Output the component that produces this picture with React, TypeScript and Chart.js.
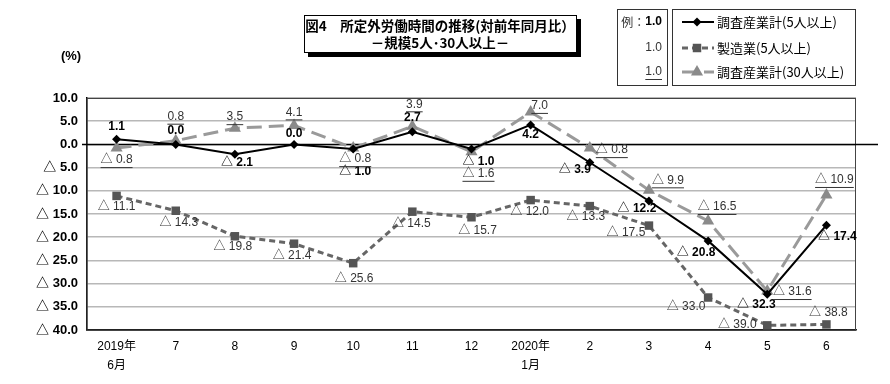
import React, { useEffect, useRef } from 'react';
import { Chart, registerables } from 'chart.js';

Chart.register(...registerables);

const categories: (string | string[])[] = [['2019年', '6月'], '7', '8', '9', '10', '11', '12', ['2020年', '1月'], '2', '3', '4', '5', '6'];
const totalSmall = [1.1, 0.0, -2.1, 0.0, -1.0, 2.7, -1.0, 4.2, -3.9, -12.2, -20.8, -32.3, -17.4];
const manufacturing = [-11.1, -14.3, -19.8, -21.4, -25.6, -14.5, -15.7, -12.0, -13.3, -17.5, -33.0, -39.0, -38.8];
const totalLarge = [-0.8, 0.8, 3.5, 4.1, -0.8, 3.9, -1.6, 7.0, -0.8, -9.9, -16.5, -31.6, -10.9];
const yMin = -40;
const yMax = 10;
const yStep = 5;
const seriesNames = ['調査産業計(5人以上)', '製造業(5人以上)', '調査産業計(30人以上)'];
const titleLines = ['図4　所定外労働時間の推移(対前年同月比）', '－規模5人･30人以上－'];
const unitLabel = '(%)';
const exampleLabel = '例：';
const exampleValue = '1.0';

// label offsets (px) relative to each point — styling only
const offsSmall = [[0, -13], [0, -14], [2, 9], [0, -11], [2, 23], [0, -14], [7, 13], [0, 10], [-15, 7], [-12, 8], [-12, 12], [-11, 10], [11, 12]];
const offsMfg = [[0, 11], [3, 12], [-2, 10], [-2, 12], [1, 16], [-1, 12], [6, 13], [-1, 12], [-4, 11], [-23, 7], [-22, 9], [-30, -1], [2, -12]];
const offsLarge = [[0, 12], [0, -24], [0, -11], [0, -13], [2, 11], [2, -22], [7, 22], [9, -6], [22, 2], [19, -10], [9, -14], [25, 1], [8, -15]];

const fmt = (v: number) => (v < 0 ? '△ ' + Math.abs(v).toFixed(1) : v.toFixed(1));

const NUM = "'Liberation Sans Narrow', 'Liberation Sans', 'Noto Sans CJK JP', sans-serif";
const JP = "'Noto Sans CJK JP', sans-serif";
const TICK = "'Liberation Sans', 'Noto Sans CJK JP', sans-serif";

const styles = [
  { color: '#000000', pointColor: '#000000', width: 2, dash: [] as number[], point: 'rectRot', radius: 4.5 },
  { color: '#666666', pointColor: '#555555', width: 3, dash: [6, 4], point: 'rect', radius: 6 },
  { color: '#9a9a9a', pointColor: '#8a8a8a', width: 3, dash: [15, 7], point: 'triangle', radius: 7 },
];

function drawMarker(ctx: CanvasRenderingContext2D, style: string, x: number, y: number, r: number, color: string) {
  ctx.save();
  ctx.fillStyle = color;
  ctx.beginPath();
  if (style === 'rectRot') {
    ctx.moveTo(x, y - r); ctx.lineTo(x + r, y); ctx.lineTo(x, y + r); ctx.lineTo(x - r, y);
  } else if (style === 'rect') {
    const s = r * Math.SQRT1_2;
    ctx.rect(x - s, y - s, 2 * s, 2 * s);
  } else {
    ctx.moveTo(x, y - r); ctx.lineTo(x + r * 0.866, y + r * 0.5); ctx.lineTo(x - r * 0.866, y + r * 0.5);
  }
  ctx.closePath();
  ctx.fill();
  ctx.restore();
}

const decorPlugin = {
  id: 'decor',
  beforeDatasetsDraw(chart: any) {
    const { ctx, chartArea } = chart;
    const y0 = chart.scales.y.getPixelForValue(0);
    ctx.save();
    ctx.strokeStyle = '#444';
    ctx.lineWidth = 1;
    ctx.strokeRect(chartArea.left, chartArea.top + 0.5, chartArea.right - chartArea.left - 0.5, chartArea.bottom - chartArea.top);
    ctx.strokeStyle = '#000';
    ctx.lineWidth = 1.5;
    ctx.beginPath();
    ctx.moveTo(chartArea.left - 5, y0);
    ctx.lineTo(chartArea.right + 22, y0);
    ctx.stroke();
    ctx.restore();
  },
  afterDatasetsDraw(chart: any) {
    const { ctx } = chart;
    const sets = [
      { vals: totalSmall, offs: offsSmall, font: 'bold 12px ' + NUM, color: '#000', underline: false },
      { vals: manufacturing, offs: offsMfg, font: '12px ' + NUM, color: '#333', underline: false },
      { vals: totalLarge, offs: offsLarge, font: '12px ' + NUM, color: '#333', underline: true },
    ];
    ctx.save();
    ctx.textAlign = 'center';
    ctx.textBaseline = 'middle';
    sets.forEach((s, di) => {
      const meta = chart.getDatasetMeta(di);
      meta.data.forEach((pt: any, i: number) => {
        const t = fmt(s.vals[i]);
        const x = pt.x + s.offs[i][0];
        const y = pt.y + s.offs[i][1];
        ctx.font = s.font;
        ctx.fillStyle = s.color;
        ctx.fillText(t, x, y);
        if (s.underline) {
          const w = ctx.measureText(t).width;
          ctx.strokeStyle = s.color;
          ctx.lineWidth = 1;
          ctx.beginPath();
          ctx.moveTo(x - w / 2, y + 7.5);
          ctx.lineTo(x + w / 2, y + 7.5);
          ctx.stroke();
        }
      });
    });
    ctx.restore();
  },
  afterDraw(chart: any) {
    const { ctx } = chart;
    ctx.save();
    // title box with shadow
    ctx.fillStyle = '#000';
    ctx.fillRect(308, 19, 273, 38);
    ctx.fillStyle = '#fff';
    ctx.fillRect(304, 15, 273, 38);
    ctx.strokeStyle = '#000';
    ctx.lineWidth = 1;
    ctx.strokeRect(304.5, 15.5, 272, 37);
    ctx.fillStyle = '#000';
    ctx.textAlign = 'center';
    ctx.textBaseline = 'middle';
    ctx.font = 'bold 13.5px ' + JP;
    ctx.fillText(titleLines[0], 440, 26);
    ctx.fillText(titleLines[1], 440, 43);

    // (%)
    ctx.font = 'bold 13px ' + TICK;
    ctx.fillText(unitLabel, 71, 56);

    // example box
    ctx.strokeStyle = '#333';
    ctx.strokeRect(617.5, 9.5, 50, 76);
    ctx.strokeRect(672.5, 9.5, 183, 76);
    const rows = [22, 48, 72];
    ctx.textAlign = 'right';
    ctx.font = 'bold 12px ' + NUM;
    ctx.fillStyle = '#000';
    ctx.fillText(exampleValue, 662, rows[0]);
    const vw = ctx.measureText(exampleValue).width;
    ctx.font = '12px ' + JP;
    ctx.fillStyle = '#333';
    ctx.fillText(exampleLabel, 662 - vw, rows[0]);
    ctx.font = '12px ' + NUM;
    ctx.fillText(exampleValue, 662, rows[1]);
    ctx.fillText(exampleValue, 662, rows[2]);
    const w2 = ctx.measureText(exampleValue).width;
    ctx.strokeStyle = '#333';
    ctx.beginPath();
    ctx.moveTo(662 - w2, rows[2] + 7.5);
    ctx.lineTo(662, rows[2] + 7.5);
    ctx.stroke();

    // legend
    ctx.textAlign = 'left';
    ctx.font = '13px ' + JP;
    styles.forEach((st, i) => {
      const y = rows[i];
      ctx.strokeStyle = st.color;
      ctx.lineWidth = st.width;
      ctx.setLineDash(st.dash);
      ctx.beginPath();
      ctx.moveTo(682, y);
      ctx.lineTo(714, y);
      ctx.stroke();
      ctx.setLineDash([]);
      drawMarker(ctx, st.point, 697, y, st.radius, st.pointColor);
      ctx.fillStyle = '#000';
      ctx.fillText(seriesNames[i], 717, y);
    });
    ctx.restore();
  },
};

export default function App() {
  const ref = useRef<HTMLCanvasElement>(null);
  useEffect(() => {
    document.body.style.margin = '0';
    const mk = (i: number, data: number[]) => ({
      label: seriesNames[i],
      data,
      borderColor: styles[i].color,
      backgroundColor: styles[i].pointColor,
      borderWidth: styles[i].width,
      borderDash: styles[i].dash,
      pointStyle: styles[i].point,
      pointRadius: styles[i].radius,
      pointBackgroundColor: styles[i].pointColor,
      pointBorderColor: styles[i].pointColor,
      pointBorderWidth: 0,
      tension: 0,
      fill: false,
    });
    const chart = new Chart(ref.current!, {
      type: 'line',
      data: {
        labels: categories,
        datasets: [mk(0, totalSmall), mk(1, manufacturing), mk(2, totalLarge)],
      },
      options: {
        animation: false,
        responsive: false,
        devicePixelRatio: 1,
        layout: { padding: { top: 98, right: 34, left: 0, bottom: 0 } },
        plugins: { legend: { display: false }, tooltip: { enabled: false }, title: { display: false } },
        scales: {
          x: {
            offset: true,
            grid: { display: false, drawTicks: false },
            border: { color: '#222', width: 1.5 },
            ticks: { color: '#000', padding: 7, font: { family: TICK, size: 12, lineHeight: 1.6 }, maxRotation: 0, autoSkip: false },
            afterFit: (s: any) => { s.height = 54; },
          },
          y: {
            min: yMin,
            max: yMax,
            grid: { color: '#b8b8b8', lineWidth: 1.5, drawTicks: false },
            border: { color: '#000', width: 1.5 },
            ticks: {
              stepSize: yStep,
              color: '#000',
              padding: 9,
              font: { family: TICK, size: 13, weight: 'bold' },
              callback: (v: any) => fmt(Number(v)),
            },
            afterFit: (s: any) => { s.width = 87; },
          },
        },
      },
      plugins: [decorPlugin],
    } as any);
    return () => chart.destroy();
  }, []);
  return (
    <div style={{ width: 890, height: 384 }}>
      <canvas ref={ref} width={890} height={384} />
    </div>
  );
}
